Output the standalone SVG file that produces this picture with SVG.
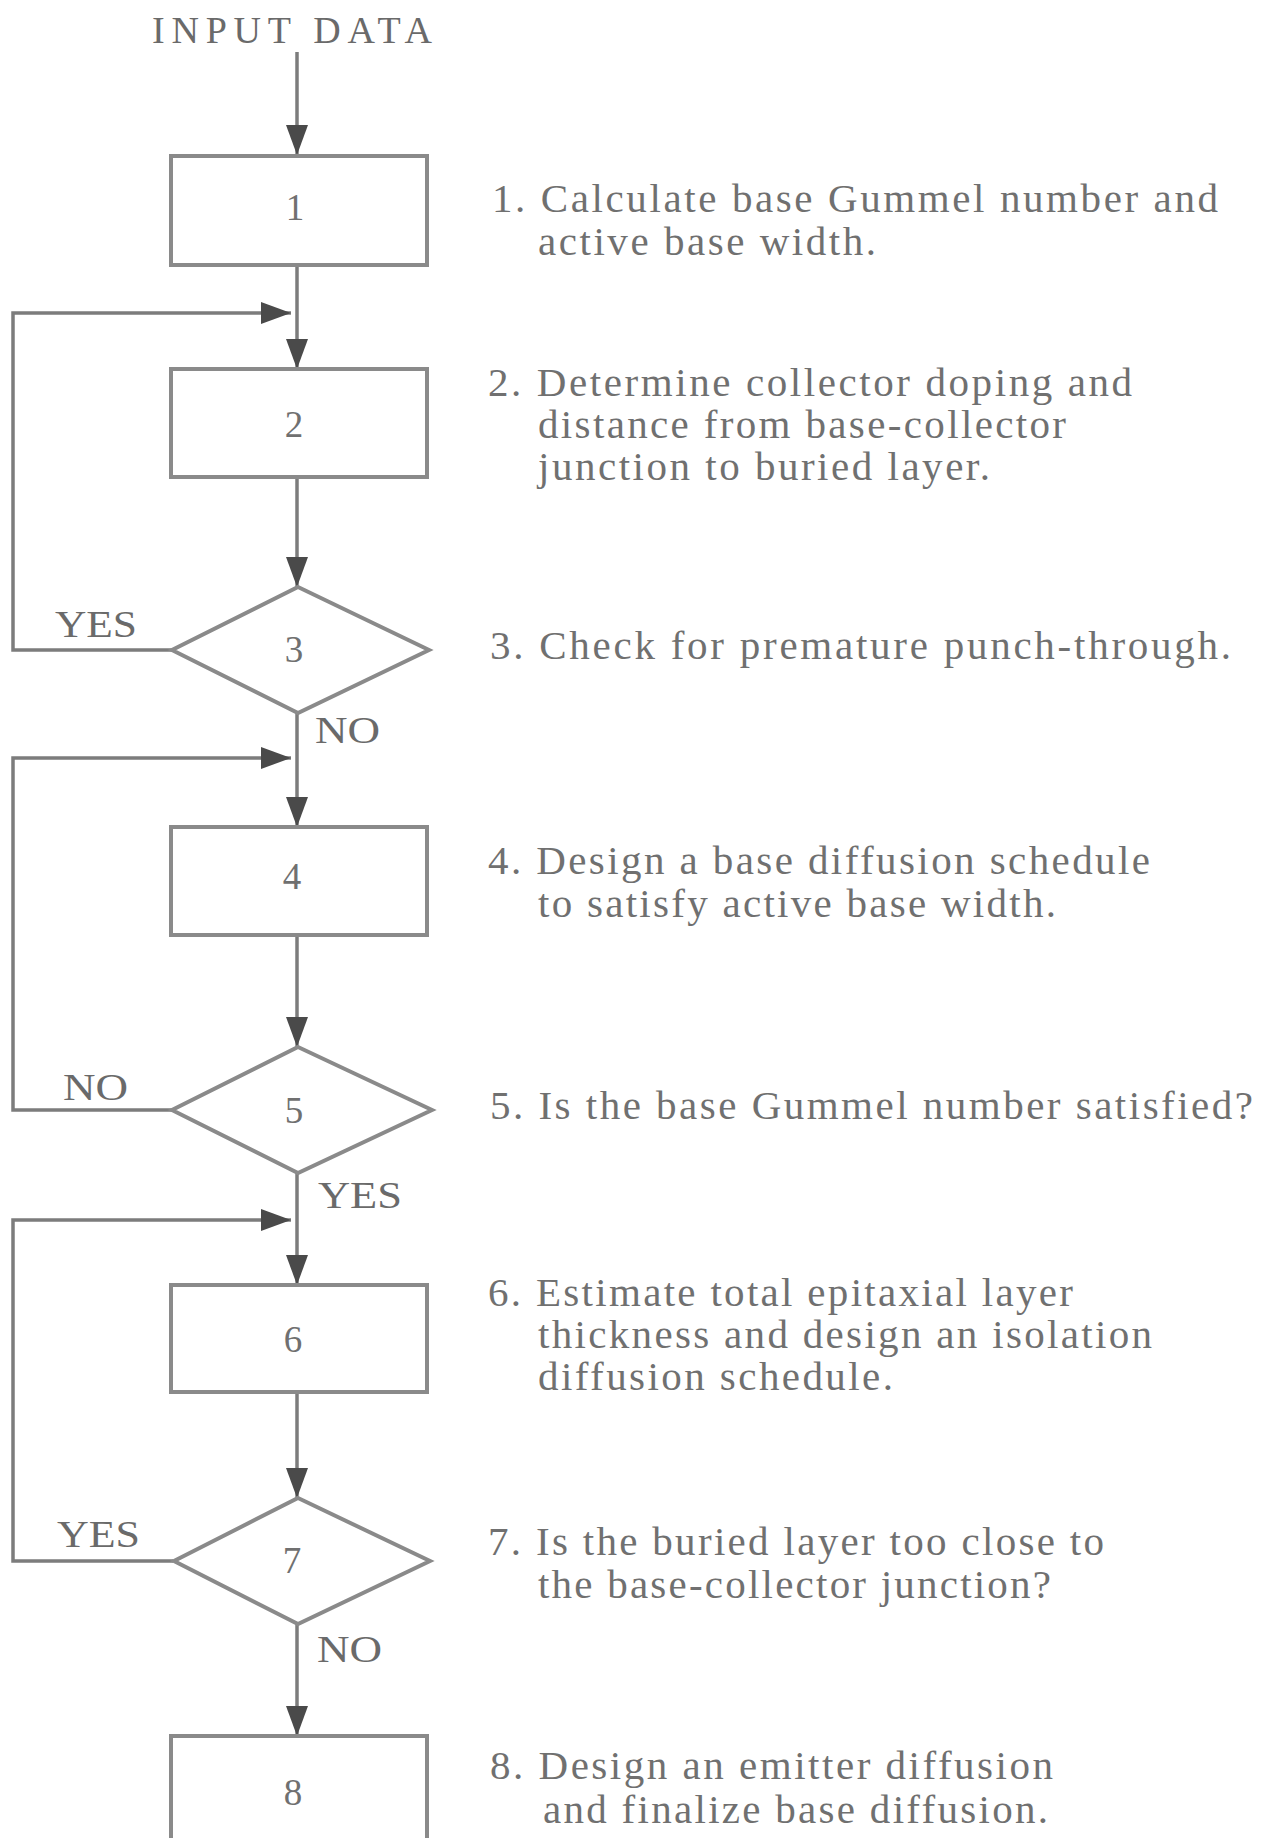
<svg xmlns="http://www.w3.org/2000/svg" width="1265" height="1838" viewBox="0 0 1265 1838">
<style>
.node{fill:#fff;stroke:#8a8a8a;stroke-width:4}
.conn{fill:none;stroke:#7c7c7c;stroke-width:3.5}
.t{font-family:"Liberation Serif","Times New Roman",serif;font-size:41px;fill:#707070}
.num{font-family:"Liberation Serif","Times New Roman",serif;font-size:37px;fill:#707070;text-anchor:middle}
.lbl{font-family:"Liberation Serif","Times New Roman",serif;font-size:38px;fill:#6a6a6a}
</style>
<defs>
<marker id="ah" markerUnits="userSpaceOnUse" markerWidth="32" markerHeight="24" refX="30" refY="11" orient="auto">
<path d="M0,0 L30,11 L0,22 z" fill="#4a4a4a"/>
</marker>
</defs>
<rect width="1265" height="1838" fill="#fff"/>

<text id="input" class="lbl" x="152" y="43" font-size="40" textLength="280" lengthAdjust="spacing">INPUT DATA</text>

<g id="connectors">
<path class="conn" d="M297,52 V155" marker-end="url(#ah)"/>
<path class="conn" d="M297,265 V369" marker-end="url(#ah)"/>
<path class="conn" d="M172,650 H13 V313 H291" marker-end="url(#ah)"/>
<path class="conn" d="M297,477 V587" marker-end="url(#ah)"/>
<path class="conn" d="M297,713 V827" marker-end="url(#ah)"/>
<path class="conn" d="M172,1110 H13 V758 H291" marker-end="url(#ah)"/>
<path class="conn" d="M297,935 V1047" marker-end="url(#ah)"/>
<path class="conn" d="M297,1173 V1285" marker-end="url(#ah)"/>
<path class="conn" d="M173,1561 H13 V1220 H291" marker-end="url(#ah)"/>
<path class="conn" d="M297,1392 V1498" marker-end="url(#ah)"/>
<path class="conn" d="M297,1624 V1736" marker-end="url(#ah)"/>
</g>

<g id="labels">
<text class="lbl" x="55" y="637" textLength="82" lengthAdjust="spacingAndGlyphs">YES</text>
<text class="lbl" x="315" y="743" textLength="65" lengthAdjust="spacingAndGlyphs">NO</text>
<text class="lbl" x="63" y="1100" textLength="65" lengthAdjust="spacingAndGlyphs">NO</text>
<text class="lbl" x="318" y="1208" textLength="84" lengthAdjust="spacingAndGlyphs">YES</text>
<text class="lbl" x="57" y="1547" textLength="83" lengthAdjust="spacingAndGlyphs">YES</text>
<text class="lbl" x="317" y="1662" textLength="65" lengthAdjust="spacingAndGlyphs">NO</text>
</g>

<g id="n1"><rect class="node" x="171" y="156" width="256" height="109"/><text class="num" x="295" y="220">1</text></g>
<g id="n2"><rect class="node" x="171" y="369" width="256" height="108"/><text class="num" x="294" y="437">2</text></g>
<g id="n3"><polygon class="node" points="298,587 429,650 298,713 172,650"/><text class="num" x="294" y="662">3</text></g>
<g id="n4"><rect class="node" x="171" y="827" width="256" height="108"/><text class="num" x="292" y="889">4</text></g>
<g id="n5"><polygon class="node" points="298,1047 432,1110 298,1173 172,1110"/><text class="num" x="294" y="1123">5</text></g>
<g id="n6"><rect class="node" x="171" y="1285" width="256" height="107"/><text class="num" x="293" y="1352">6</text></g>
<g id="n7"><polygon class="node" points="298,1498 430,1561 298,1624 174,1561"/><text class="num" x="292" y="1573">7</text></g>
<g id="n8"><rect class="node" x="171" y="1736" width="256" height="108"/><text class="num" x="293" y="1805">8</text></g>

<g id="descriptions">
<text class="t" x="492" y="212" textLength="726" lengthAdjust="spacing">1. Calculate base Gummel number and</text>
<text class="t" x="538" y="255" textLength="338" lengthAdjust="spacing">active base width.</text>
<text class="t" x="488" y="396" textLength="644" lengthAdjust="spacing">2. Determine collector doping and</text>
<text class="t" x="538" y="438" textLength="528" lengthAdjust="spacing">distance from base-collector</text>
<text class="t" x="538" y="480" textLength="452" lengthAdjust="spacing">junction to buried layer.</text>
<text class="t" x="490" y="659" textLength="741" lengthAdjust="spacing">3. Check for premature punch-through.</text>
<text class="t" x="488" y="874" textLength="662" lengthAdjust="spacing">4. Design a base diffusion schedule</text>
<text class="t" x="538" y="917" textLength="518" lengthAdjust="spacing">to satisfy active base width.</text>
<text class="t" x="490" y="1119" textLength="763" lengthAdjust="spacing">5. Is the base Gummel number satisfied?</text>
<text class="t" x="488" y="1306" textLength="585" lengthAdjust="spacing">6. Estimate total epitaxial layer</text>
<text class="t" x="538" y="1348" textLength="614" lengthAdjust="spacing">thickness and design an isolation</text>
<text class="t" x="538" y="1390" textLength="355" lengthAdjust="spacing">diffusion schedule.</text>
<text class="t" x="488" y="1555" textLength="616" lengthAdjust="spacing">7. Is the buried layer too close to</text>
<text class="t" x="538" y="1598" textLength="513" lengthAdjust="spacing">the base-collector junction?</text>
<text class="t" x="490" y="1779" textLength="563" lengthAdjust="spacing">8. Design an emitter diffusion</text>
<text class="t" x="543" y="1823" textLength="505" lengthAdjust="spacing">and finalize base diffusion.</text>
</g>
</svg>
